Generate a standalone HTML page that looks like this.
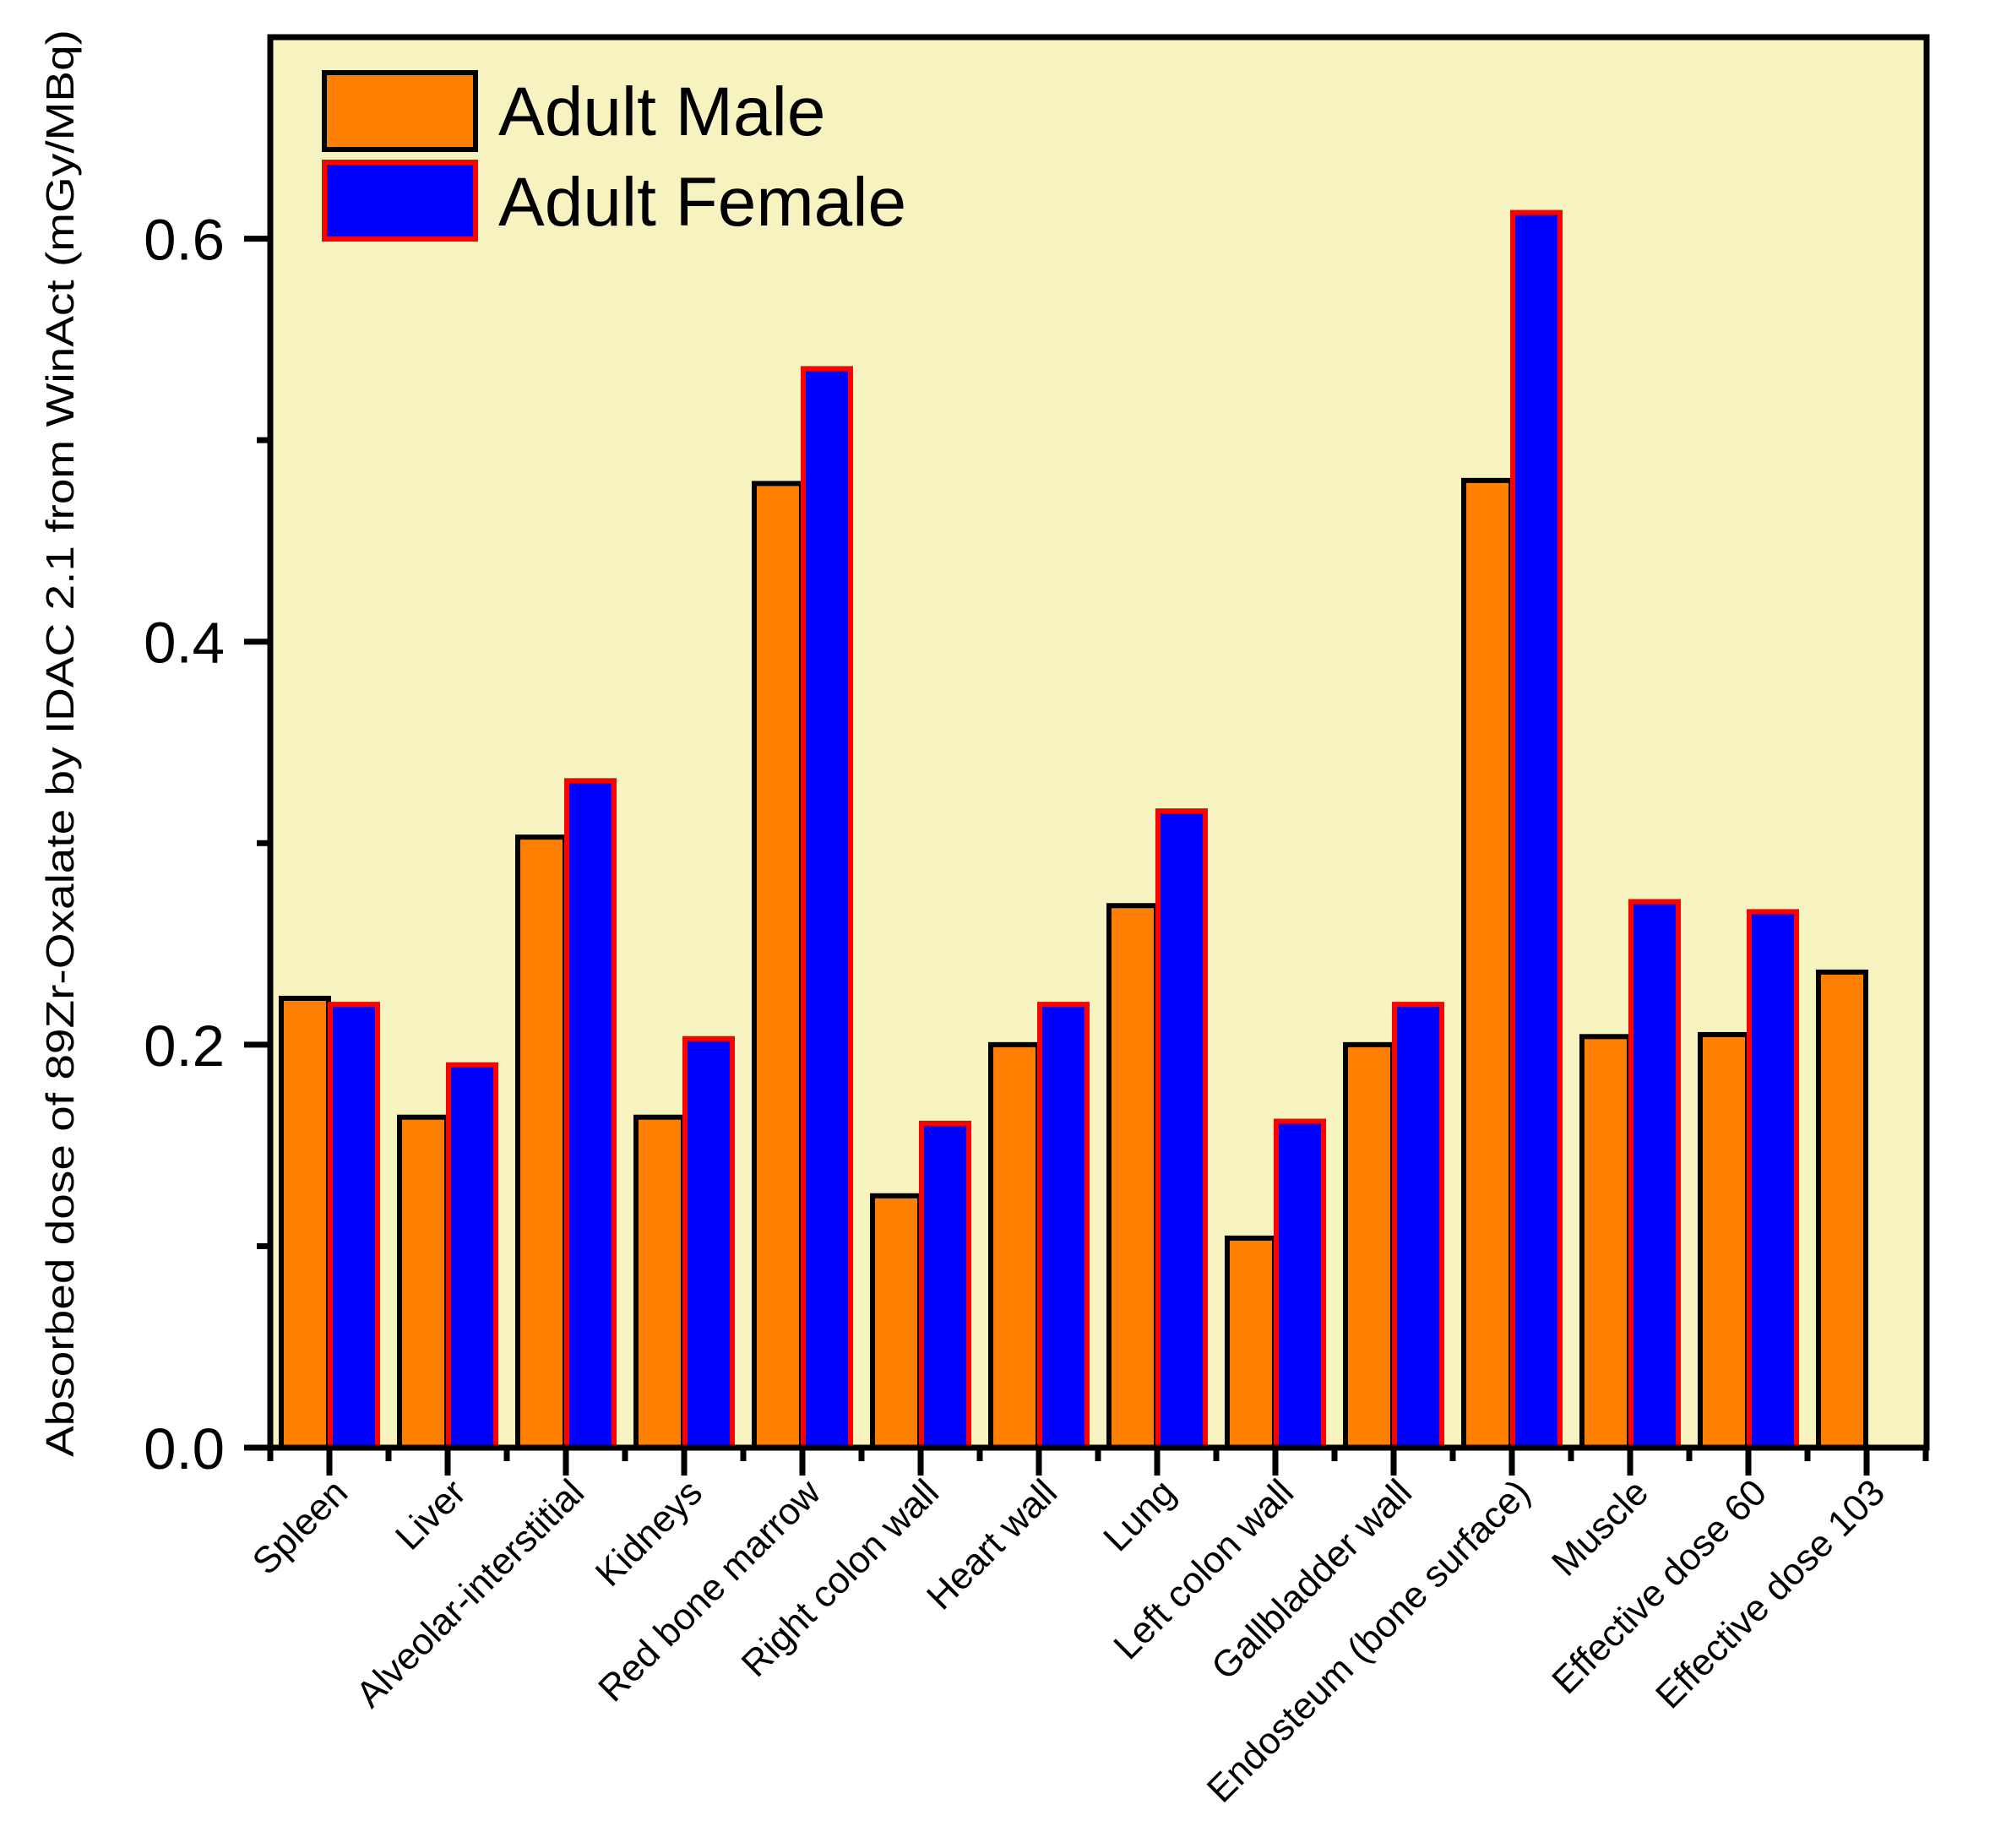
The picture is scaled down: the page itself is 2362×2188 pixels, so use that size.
<!DOCTYPE html>
<html><head><meta charset="utf-8"><style>
html,body{margin:0;padding:0;background:#fff}
svg{display:block;font-family:"Liberation Sans",Arial,sans-serif}
</style></head><body>
<svg id="chart" width="2362" height="2188" viewBox="0 0 2362 2188" xmlns="http://www.w3.org/2000/svg">
<rect x="320" y="44" width="1961" height="1670" fill="#F7F3C1"/>
<g id="bars"></g>
<g id="axes"></g>
<text x="87" y="880" font-size="46" text-anchor="middle" transform="rotate(-90 87 880)" textLength="1690" lengthAdjust="spacingAndGlyphs">Absorbed dose of 89Zr-Oxalate by IDAC 2.1 from WinAct (mGy/MBq)</text>
<g>
<rect x="384" y="86" width="179" height="91" fill="#FF8000" stroke="#000" stroke-width="6"/>
<text x="590" y="160" font-size="82">Adult Male</text>
<rect x="384" y="192" width="179" height="91" fill="#0000FF" stroke="#FF0000" stroke-width="6"/>
<text x="590" y="267" font-size="82">Adult Female</text>
</g>
</svg>
<script>
const categories = ["Spleen","Liver","Alveolar-interstitial","Kidneys","Red bone marrow","Right colon wall","Heart wall","Lung","Left colon wall","Gallbladder wall","Endosteum (bone surface)","Muscle","Effective dose 60","Effective dose 103"];
const maleValues = [0.223,0.164,0.303,0.164,0.4785,0.125,0.200,0.269,0.104,0.200,0.480,0.204,0.205,0.236];
const femaleValues = [0.220,0.190,0.331,0.203,0.5355,0.161,0.220,0.316,0.162,0.220,0.613,0.271,0.266,null];
const yTickLabels = ["0.0","0.2","0.4","0.6"];
const yTickValues = [0,0.2,0.4,0.6];
const yMinorValues = [0.1,0.3,0.5];

const NS="http://www.w3.org/2000/svg";
const X0=320, STEP=140, Y0=1714, YTOP=44, YMAX=0.7;
const xScale = i => X0 + STEP*(i+0.5);
const yScale = v => Y0 - (Y0-YTOP)*v/YMAX;
function mk(tag, attrs, parent){const e=document.createElementNS(NS,tag);for(const k in attrs)e.setAttribute(k,attrs[k]);parent.appendChild(e);return e;}
const bars=document.getElementById('bars'), axes=document.getElementById('axes');
const BW=56;
categories.forEach((c,i)=>{
  const cx=xScale(i);
  const m=maleValues[i];
  if(m!=null){
    const r=mk('rect',{x:cx-BW-1,y:yScale(m),width:BW,height:Y0-yScale(m),fill:'#FF8000',stroke:'#000','stroke-width':6},bars);
    
    
  }
  const f=femaleValues[i];
  if(f!=null){
    const r=mk('rect',{x:cx+1,y:yScale(f),width:BW,height:Y0-yScale(f),fill:'#0000FF',stroke:'#FF0000','stroke-width':6},bars);
    
    
  }
  const t=mk('line',{x1:cx,y1:Y0,x2:cx,y2:1747,stroke:'#000','stroke-width':7},axes);
  
  
  const mt=mk('line',{x1:X0+STEP*i,y1:Y0,x2:X0+STEP*i,y2:1730,stroke:'#000','stroke-width':7},axes);
  
  
  const lab=mk('text',{x:0,y:0,'font-size':44,'text-anchor':'end',transform:`translate(${cx+24},${1770}) rotate(-45)`},axes);
  lab.textContent=c;
  
  
});
{const mt=mk('line',{x1:X0+STEP*14,y1:Y0,x2:X0+STEP*14,y2:1730,stroke:'#000','stroke-width':7},axes);

}
const fr=mk('rect',{x:X0,y:YTOP,width:1961,height:Y0-YTOP,fill:'none',stroke:'#000','stroke-width':7},axes);


yTickValues.forEach((v,i)=>{
  const y=yScale(v);
  const t=mk('line',{x1:289,y1:y,x2:X0,y2:y,stroke:'#000','stroke-width':7},axes);
  
  
  const l=mk('text',{x:266,y:y+25,'font-size':69,'text-anchor':'end'},axes);
  l.textContent=yTickLabels[i];
  
  
});
yMinorValues.forEach(v=>{
  const y=yScale(v);
  const t=mk('line',{x1:304,y1:y,x2:X0,y2:y,stroke:'#000','stroke-width':7},axes);
  
  
});
</script>
</body></html>
